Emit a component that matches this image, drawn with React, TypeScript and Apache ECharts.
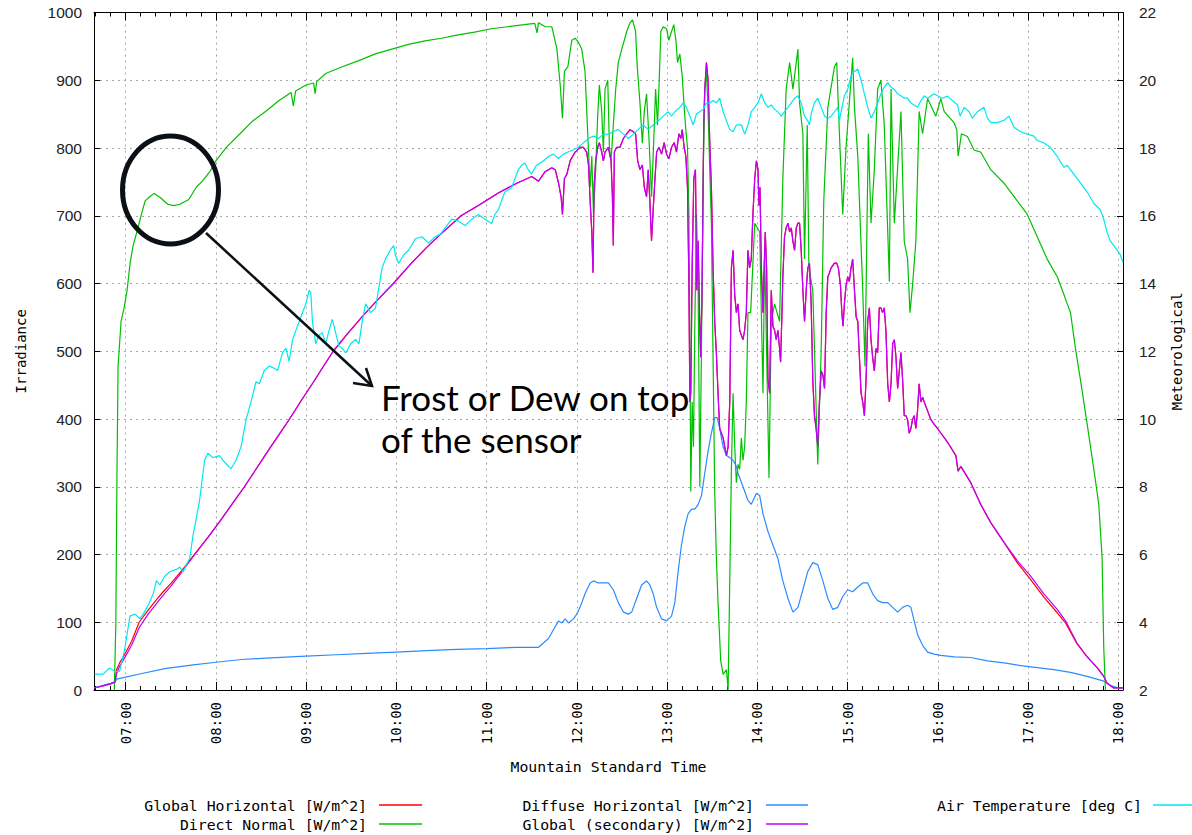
import React, { useEffect, useRef } from "react";
import * as echarts from "echarts";

// time in minutes after midnight (Mountain Standard Time)
const X_MIN = 399;
const X_MAX = 1083;
const HOUR_TICKS = [420, 480, 540, 600, 660, 720, 780, 840, 900, 960, 1020, 1080];
const MINOR_TICKS = [400, 410, 420, 430, 440, 450, 460, 470, 480, 490, 500, 510, 520, 530, 540, 550, 560, 570, 580, 590, 600, 610, 620, 630, 640, 650, 660, 670, 680, 690, 700, 710, 720, 730, 740, 750, 760, 770, 780, 790, 800, 810, 820, 830, 840, 850, 860, 870, 880, 890, 900, 910, 920, 930, 940, 950, 960, 970, 980, 990, 1000, 1010, 1020, 1030, 1040, 1050, 1060, 1070, 1080];

const SERIES_NAMES = [
  "Global Horizontal [W/m^2]",
  "Direct Normal [W/m^2]",
  "Diffuse Horizontal [W/m^2]",
  "Global (secondary) [W/m^2]",
  "Air Temperature [deg C]",
];
const SERIES_COLORS = ["#ff0000", "#00c000", "#2a8cff", "#c000ff", "#00e8ee"];

// Global horizontal, morning (red reads slightly higher than the secondary sensor)
const ghMorning = [
  [399, 3], [405, 6], [410, 9], [413, 12], [414, 30], [416, 40], [418, 47], [420, 55], [424, 72], [429, 100],
  [435, 118], [440, 132], [445, 145], [450, 157], [458, 178], [466, 201], [475, 226], [483, 250], [491, 275],
  [499, 300], [507, 327], [515, 354], [522, 377], [529, 400], [537, 428], [545, 455], [551, 476], [558, 500],
  [568, 527], [578, 553], [588, 577], [598, 600], [610, 630], [620, 653], [630, 674], [643, 700], [655, 716],
  [668, 734], [680, 748], [690, 758],
];
const gsMorning = [
  [399, 3], [405, 6], [410, 9], [413, 12], [414, 24], [416, 35], [418, 42], [420, 50], [424, 66], [429, 92],
  [435, 112], [440, 126], [445, 140], [450, 153], [458, 176], [466, 200], [475, 226], [483, 250], [491, 275],
  [499, 300], [507, 327], [515, 354], [522, 377], [529, 400], [537, 428], [545, 455], [551, 476], [558, 500],
  [568, 527], [578, 553], [588, 577], [598, 600], [610, 630], [620, 653], [630, 674], [643, 700], [655, 716],
  [668, 734], [680, 748], [690, 758],
];
// both global sensors overlap through the cloudy middle of the day
const globalMidday = [
  [694.5, 751], [698.9, 765], [703.3, 771], [705.6, 768], [707.8, 748], [709.5, 728], [710.4, 702], [711.7, 755],
  [713.3, 761], [715.5, 781], [718.8, 794], [722.1, 801], [724.3, 801], [726.5, 794], [727.7, 775], [728.8, 722],
  [729.9, 676], [730.7, 616], [731.4, 742], [732.5, 781], [733.8, 801], [734.9, 808], [736.5, 794], [737.6, 781],
  [738.7, 794], [740.9, 801], [742.7, 781], [743.6, 728], [744.2, 656], [744.9, 794], [746.4, 801], [748.6, 801],
  [750.9, 814], [753.1, 821], [755.3, 827], [757.5, 824], [759, 821], [760.4, 781], [761.9, 768], [763.5, 775],
  [764.8, 742], [766.3, 728], [767.4, 768], [768.5, 722], [769.6, 663], [770.7, 709], [771.9, 755], [773, 794],
  [774.5, 801], [776.3, 791], [778, 808], [779.6, 791], [781.1, 784], [782.9, 801], [784.7, 808], [786.2, 794],
  [787.8, 821], [789.1, 814], [790, 827], [791.3, 801], [792.4, 788], [793.5, 742], [794.4, 610], [795.1, 425],
  [795.7, 438], [796.6, 623], [797.7, 755], [798.8, 768], [799.7, 590], [800.6, 663], [801.7, 537], [802.3, 491],
  [803.2, 590], [804.3, 834], [805, 887], [806.1, 926], [807.2, 900], [808.3, 808], [809.4, 742], [810.5, 623],
  [811.6, 544], [812.7, 498], [813.8, 438], [814.9, 386], [817.2, 372], [818.3, 359], [819.4, 346], [820.5, 359],
  [821.6, 425], [822.7, 623], [823.8, 649], [824.9, 583], [826, 557], [827.1, 570], [828.2, 531], [829.3, 524],
  [830.4, 517], [831.5, 531], [832.6, 557], [833.7, 649], [834.8, 623], [835.9, 636], [837, 702], [838.2, 755],
  [839.3, 781], [840.4, 768], [841, 715], [841.7, 742], [842.6, 623], [843.7, 557], [844.3, 610], [845.2, 676],
  [846.1, 623], [847, 458], [848.1, 438], [849.2, 590], [850.3, 537], [851.4, 531], [852.5, 517], [853.6, 531],
  [854.7, 504], [855.4, 484], [856.3, 557], [856.9, 610], [858, 669], [859.1, 682], [860.3, 689], [861.4, 676],
  [862.5, 682], [863.6, 662], [864.7, 649], [865.8, 682], [866.9, 689], [868, 689], [869.1, 649], [870.2, 590],
  [871.3, 544], [872.4, 590], [873.5, 623], [874.6, 630], [875.7, 570], [876.8, 458], [877.9, 405], [879, 386],
  [880.1, 359], [881.2, 425], [882.4, 471], [883.5, 465], [884.6, 445], [885.7, 557], [886.8, 610], [887.9, 616],
  [889, 623], [891.2, 630], [892.7, 630], [893.8, 623], [895.2, 597], [896.1, 557], [896.9, 537], [897.8, 570],
  [898.9, 597], [900, 610], [901.1, 603], [902.2, 623], [903.3, 636], [904.5, 590], [905.6, 551], [906.7, 544],
  [907.8, 491], [908.9, 438], [910, 425], [911.1, 405], [912.2, 458], [913.3, 544], [914.4, 564], [915.5, 517],
  [916.6, 491], [917.7, 471], [918.8, 504], [919.9, 498], [921, 564], [922.1, 564], [923.2, 557], [924.3, 564],
  [925.4, 531], [926.6, 452], [927.7, 425], [928.8, 452], [929.9, 511], [931, 517], [932.1, 491], [933.2, 445],
  [934.3, 471], [935.4, 498], [936.5, 458], [937.6, 405], [938.7, 405], [939.8, 399], [940.9, 379], [942, 386],
  [943.1, 399], [944.2, 405], [945.3, 386], [946.4, 412], [947.5, 452], [948.7, 425], [949.8, 432], [950.9, 425],
  [953.1, 412], [955.3, 399], [957.5, 392], [959.7, 386], [966.3, 366], [971.9, 346], [973.4, 323], [975.2, 330],
  [981.8, 306], [988.4, 274], [995.1, 247], [1003.9, 218],
];
const ghEvening = [
  [1012.7, 188], [1021.6, 163], [1030.4, 137], [1039.3, 114], [1044.8, 99], [1052.5, 68], [1059.2, 49],
  [1065.8, 33], [1070.2, 20], [1072.4, 10], [1076.8, 3], [1083, 3],
];
const gsEvening = [
  [1012.7, 191], [1021.6, 168], [1030.4, 142], [1039.3, 119], [1044.8, 102], [1052.5, 69], [1059.2, 49],
  [1065.8, 33], [1070.2, 20], [1072.4, 10], [1076.8, 3], [1083, 3],
];
const globalHorizontal = [...ghMorning, ...globalMidday, ...ghEvening];
const globalSecondary = [...gsMorning, ...globalMidday, ...gsEvening];

const directNormal = [
  [412.5, 0], [413.5, 96], [414.3, 326], [415, 478], [417, 544], [419, 564], [421, 590], [423, 630], [425, 656],
  [427.5, 676], [430.5, 702], [433, 722], [436, 728], [439, 733], [443, 727], [448, 717], [452, 715], [456, 717],
  [462, 724], [467, 742], [471, 751], [476, 765], [480, 781], [487, 801], [496, 821], [504.5, 840], [513, 854],
  [522, 870], [530, 882], [531.5, 862], [533, 884], [540, 893], [545, 896], [546, 880], [547, 898], [553, 910],
  [564, 920], [575, 929], [586, 939], [597, 946], [608, 953], [619, 958], [630, 962], [641, 967], [652, 971],
  [663, 976], [674, 979], [685, 982], [692, 984], [693.5, 970], [694.5, 985], [698.9, 979], [703.3, 979],
  [704.4, 969], [706.7, 946], [708.9, 893], [710.4, 844], [711.7, 913], [714, 920], [716.6, 959], [718.8, 962],
  [721, 956], [723.2, 946], [725.4, 913], [727.2, 821], [728.8, 742], [729.9, 788], [731, 702], [732.5, 768],
  [733.8, 847], [734.9, 893], [736.5, 854], [737.6, 794], [738.7, 887], [740.5, 900], [741.6, 801], [742.7, 781],
  [744.2, 834], [745.8, 887], [747.5, 926], [749.8, 946], [751.5, 959], [753.1, 972], [755.3, 985], [757, 989],
  [759, 972], [760.1, 920], [761.9, 867], [763.5, 807], [764.8, 854], [766.3, 880], [767.9, 814], [769.6, 728],
  [770.7, 788], [772.3, 887], [773.6, 834], [774.5, 887], [775.8, 972], [777.4, 979], [779.6, 976], [781.1, 959],
  [782.9, 972], [784.4, 982], [785.8, 959], [786.9, 926], [788.4, 939], [790, 906], [791.3, 860], [792.4, 827],
  [793.5, 801], [794.4, 709], [795.1, 517], [795.7, 293], [796.6, 425], [797.5, 359], [798.4, 544], [799.5, 702],
  [800.6, 590], [801.7, 300], [802.8, 504], [803.9, 755], [805, 887], [806.1, 913], [807.2, 854], [808.3, 768],
  [809.4, 689], [810.5, 491], [811.6, 293], [812.7, 195], [813.8, 129], [815.6, 43], [817.2, 23], [819.4, 30],
  [820.5, 0], [821.6, 162], [822.7, 326], [823.8, 438], [824.9, 359], [826, 306], [827.1, 333], [828.2, 326],
  [829.3, 372], [830.4, 339], [831.5, 359], [832.6, 425], [833.7, 557], [835.5, 557], [838.2, 689], [841.5, 676],
  [843.7, 438], [844.8, 649], [847.7, 313], [849.2, 544], [851.4, 570], [854.7, 544], [856.9, 755], [859.1, 887],
  [861.4, 926], [863.6, 887], [866.9, 946], [868, 867], [870.2, 821], [871.3, 636], [873.1, 834], [874.2, 623],
  [876.8, 590], [880.1, 333], [882.4, 504], [884.1, 722], [886.8, 860], [891.2, 920], [892.7, 926], [894.5, 821],
  [896.7, 702], [898.9, 801], [903.3, 933], [904.5, 860], [906.7, 788], [910, 590], [911.5, 478], [913.7, 821],
  [915.5, 689], [917.7, 768], [919.9, 887], [922.1, 900], [924.3, 834], [927.7, 603], [928.8, 887], [931, 689],
  [935.4, 854], [937.6, 662], [939.8, 636], [941.4, 557], [943.1, 597], [945.3, 662], [947.5, 854], [949.8, 821],
  [953.1, 873], [958.6, 847], [961.9, 873], [964.1, 854], [970.8, 837], [972.5, 827], [973.4, 788], [974.3, 801],
  [975.6, 821], [979.6, 817], [984, 797], [988.4, 794], [995.1, 768], [1003.9, 748], [1012.7, 722], [1019.4, 702],
  [1026, 669], [1032.6, 636], [1039.3, 610], [1044.8, 577], [1048.1, 557], [1051.4, 504], [1054.7, 458],
  [1059.2, 392], [1063.6, 326], [1066.9, 274], [1069.1, 195], [1070.2, 63], [1071.3, 0],
];

const diffuseHorizontal = [
  [399, 3], [405, 7], [410, 10], [413, 12], [414, 16], [420, 19], [430, 24], [447, 32], [465, 37], [480, 41],
  [497, 45], [513, 47], [540, 50], [560, 52], [580, 54], [600, 56], [620, 58], [640, 60], [660, 61], [680, 63],
  [694.5, 63], [701.1, 76], [704.4, 89], [707.8, 102], [710, 99], [712.2, 105], [714.4, 99], [717.7, 105],
  [719.9, 112], [722.1, 122], [725.4, 142], [728.8, 158], [731, 161], [734.3, 158], [737.6, 158], [740.9, 158],
  [744.2, 148], [747.5, 129], [750.9, 115], [754.2, 112], [756.4, 115], [759.7, 135], [763, 155], [766.3, 161],
  [768.5, 155], [770.7, 142], [773, 122], [776.3, 105], [779.6, 102], [782.9, 109], [785.1, 129], [787.3, 175],
  [789.5, 214], [791.7, 241], [793.9, 260], [796.2, 267], [798.4, 267], [800.6, 274], [802.8, 287], [805, 320],
  [807.2, 353], [809.4, 379], [811.6, 402], [813.2, 402], [814.9, 386], [817.2, 359], [819.4, 346], [821.6, 343],
  [823.8, 339], [826, 330], [827.1, 320], [830.4, 300], [833.7, 280], [835.9, 274], [839.3, 290], [841.5, 287],
  [843.7, 260], [847, 234], [850.3, 214], [853.6, 194], [856.9, 161], [860.3, 135], [863.6, 115], [866.9, 122],
  [870.2, 148], [873.5, 175], [876.8, 188], [880.1, 185], [883.5, 161], [886.8, 135], [890.1, 119], [893.4, 122],
  [896.7, 138], [900, 148], [903.3, 145], [906.7, 152], [910, 158], [913.3, 158], [916.6, 142], [919.9, 132],
  [923.2, 129], [926.6, 129], [929.9, 122], [933.2, 115], [936.5, 122], [939.8, 125], [942, 122], [944.2, 102],
  [946.4, 82], [949.8, 66], [953.1, 56], [957.5, 53], [961.9, 51], [970.8, 49], [981.8, 48], [992.9, 43],
  [1003.9, 40], [1015, 36], [1026, 33], [1037, 30], [1048.1, 26], [1059.2, 20], [1070.2, 13], [1074.6, 7],
  [1080.1, 3], [1083, 3],
];

const airTemperature = [
  [399.4, 2.47], [405, 2.47], [409.4, 2.65], [412.7, 2.55], [416, 2.55], [419.3, 3.18], [422.9, 4.18],
  [426.2, 4.24], [429.5, 4.11], [431.7, 4.24], [435, 4.5], [438.3, 4.83], [440.5, 5.23], [442.7, 5.1],
  [446, 5.36], [449.3, 5.49], [453.8, 5.56], [456, 5.63], [458.2, 5.49], [462.6, 5.89], [464.8, 6.55],
  [469.2, 7.6], [472.5, 8.79], [474.7, 8.99], [478, 8.86], [482.4, 8.92], [485.7, 8.73], [490.1, 8.53],
  [493.5, 8.79], [496.8, 9.19], [500.1, 9.98], [503.4, 10.51], [506.7, 11.1], [508.9, 11.04], [512.2, 11.43],
  [515.5, 11.56], [518.8, 11.5], [521, 11.43], [524.3, 11.95], [526.5, 12.09], [528.7, 11.7], [531, 12.35],
  [535.4, 12.88], [539.8, 13.4], [542, 13.8], [543.1, 13.73], [544.2, 12.88], [546.4, 12.22], [548.6, 12.48],
  [550.8, 12.55], [553, 12.22], [555.2, 12.61], [557.4, 12.94], [559.6, 12.55], [561.8, 12.15], [564, 12.09],
  [566.3, 11.95], [569.6, 12.22], [572.9, 12.35], [575.1, 12.22], [577.3, 12.88], [579.5, 13.4], [582.8, 13.14],
  [586.1, 13.27], [590.5, 14.46], [592.7, 14.72], [596, 14.99], [598.2, 15.12], [599.3, 14.85], [601.5, 14.59],
  [604.9, 14.85], [608.2, 14.99], [612.6, 15.32], [617, 15.38], [621.4, 15.19], [625.8, 15.38], [629.1, 15.45],
  [632.4, 15.64], [636.8, 15.9], [641.3, 15.84], [645.7, 15.71], [650.1, 15.9], [654.5, 16.04], [658.9, 15.9],
  [663.3, 15.77], [665.5, 16.04], [667.7, 16.17], [669.9, 16.44], [672.1, 16.7], [676.6, 16.83], [681, 17.36],
  [683.2, 17.49], [685.4, 17.56], [687.6, 17.36], [689.8, 17.23], [693.1, 17.49], [697.8, 17.62], [701.1, 17.75],
  [704.4, 17.82], [707.8, 17.69], [711.1, 17.82], [714.4, 17.89], [717.7, 17.95], [721, 18.02], [724.3, 18.15],
  [727.7, 18.28], [731, 18.35], [734.3, 18.28], [737.6, 18.41], [740.9, 18.41], [744.2, 18.48], [747.5, 18.55],
  [750.9, 18.41], [754.2, 18.28], [757.5, 18.41], [760.8, 18.55], [764.1, 18.68], [767.4, 18.55], [770.7, 18.68],
  [774.1, 18.8], [777.4, 18.94], [780.7, 19.07], [782.9, 18.94], [785.1, 19.07], [788.4, 19.2], [790.6, 19.33],
  [792.8, 19.2], [795.1, 18.94], [797.3, 18.68], [799.5, 19.01], [801.7, 19.07], [803.9, 19.14], [806.1, 19.33],
  [808.3, 19.33], [810.5, 19.4], [812.7, 19.33], [814.9, 19.47], [817.2, 19.07], [819.4, 18.8], [821.6, 18.55],
  [823.8, 18.48], [826, 18.68], [829.3, 18.68], [831.5, 18.41], [833.7, 18.68], [835.9, 19.07], [838.2, 19.2],
  [840.4, 19.33], [842.6, 19.6], [844.8, 19.33], [847, 19.2], [849.2, 19.27], [851.4, 19.14], [853.6, 19.07],
  [855.8, 18.94], [858, 19.07], [860.3, 19.2], [862.5, 19.33], [864.7, 19.47], [866.9, 19.54], [869.1, 19.33],
  [871.3, 18.94], [873.5, 18.8], [874.6, 18.68], [875.7, 19.01], [877.9, 19.33], [880.1, 19.47], [882.4, 19.2],
  [884.6, 18.94], [886.8, 18.88], [889, 18.94], [891.2, 19.07], [893.4, 19.2], [894.5, 18.8], [895.6, 19.07],
  [897.8, 19.54], [900, 19.73], [902.2, 20.13], [904.5, 20.26], [906.7, 20.33], [908.9, 20.0], [911.1, 19.6],
  [913.3, 19.2], [915.5, 18.88], [917.7, 19.07], [919.9, 19.33], [922.1, 19.6], [924.3, 19.8], [926.6, 19.93],
  [928.8, 19.8], [931, 19.73], [933.2, 19.6], [935.4, 19.54], [937.6, 19.47], [939.8, 19.47], [942, 19.33],
  [944.2, 19.27], [946.4, 19.2], [948.7, 19.4], [950.9, 19.54], [953.1, 19.47], [955.3, 19.54], [957.5, 19.6],
  [959.7, 19.54], [963, 19.47], [966.3, 19.53], [969.6, 19.4], [973, 19.27], [974.7, 18.94], [977.4, 19.2],
  [980.7, 19.07], [982.9, 18.88], [986.2, 19.07], [990.6, 19.2], [992.9, 18.88], [995.1, 18.75], [999.5, 18.75],
  [1003.9, 18.82], [1007.2, 18.94], [1010.5, 18.61], [1015, 18.48], [1019.4, 18.41], [1023.8, 18.35],
  [1026, 18.22], [1030.4, 18.15], [1034.8, 18.02], [1039.3, 17.75], [1043.7, 17.43], [1045.9, 17.49],
  [1050.3, 17.23], [1054.7, 16.97], [1059.2, 16.7], [1063.6, 16.37], [1068, 16.17], [1070.2, 15.9],
  [1072.4, 15.51], [1074.6, 15.25], [1078, 15.05], [1081.2, 14.85], [1083, 14.62],
];

const MONO = "'DejaVu Sans Mono', 'Liberation Mono', monospace";
const SANS = "'Liberation Sans', Arial, sans-serif";
const NOTE_FONT = "35px Lato, 'Open Sans', sans-serif";

const fmtTime = (v: number) => {
  const h = Math.floor(v / 60);
  const m = Math.round(v - h * 60);
  return `${String(h).padStart(2, "0")}:${String(m).padStart(2, "0")}`;
};

export default function App() {
  const ref = useRef<HTMLDivElement>(null);

  useEffect(() => {
    if (!ref.current) return;
    const chart = echarts.init(ref.current, null, { renderer: "svg" });

    const gridLine = { show: true, lineStyle: { color: "#a8a8a8", width: 1, type: [2, 4] as any } };
    const black = { color: "#000", width: 1 };

    const xCommon = { type: "value" as const, min: X_MIN, max: X_MAX, gridIndex: 0 };

    const legendCols = [
      { textRight: 367, lineX1: 379, lineX2: 422 },
      { textRight: 754, lineX1: 766, lineX2: 808 },
      { textRight: 1142, lineX1: 1153, lineX2: 1195 },
    ];
    const legendSlots = [
      { col: 0, y: 805 },
      { col: 0, y: 824 },
      { col: 1, y: 805 },
      { col: 1, y: 824 },
      { col: 2, y: 805 },
    ];
    const legendGraphics: any[] = [];
    SERIES_NAMES.forEach((name, i) => {
      const slot = legendSlots[i];
      const c = legendCols[slot.col];
      legendGraphics.push({
        type: "text",
        x: c.textRight,
        y: slot.y,
        style: { text: name, font: `14.8px ${MONO}`, fill: "#000", align: "right", verticalAlign: "middle" },
      });
      legendGraphics.push({
        type: "line",
        shape: { x1: c.lineX1, y1: slot.y, x2: c.lineX2, y2: slot.y },
        style: { stroke: SERIES_COLORS[i], lineWidth: 1.5 },
      });
    });

    const seriesData = [globalHorizontal, directNormal, diffuseHorizontal, globalSecondary, airTemperature];

    chart.setOption({
      animation: false,
      backgroundColor: "#fff",
      grid: { left: 94, right: 65, top: 12.5, bottom: 145, containLabel: false },
      xAxis: [
        {
          ...xCommon,
          position: "bottom",
          name: "Mountain Standard Time",
          nameLocation: "middle",
          nameGap: 69,
          nameTextStyle: { fontFamily: MONO, fontSize: 14.8, color: "#000" },
          axisLine: { show: true, onZero: false, lineStyle: black },
          axisTick: { show: true, inside: true, length: 8, customValues: HOUR_TICKS, lineStyle: black },
          axisLabel: {
            show: true,
            customValues: HOUR_TICKS,
            rotate: 90,
            margin: 12,
            fontFamily: MONO,
            fontSize: 14,
            color: "#000",
            formatter: (v: number) => fmtTime(v),
          },
          splitLine: gridLine,
        },
        {
          ...xCommon,
          position: "bottom",
          axisLine: { show: false },
          axisTick: { show: true, inside: true, length: 4, customValues: MINOR_TICKS, lineStyle: black },
          axisLabel: { show: false },
          splitLine: { show: false },
        },
        {
          ...xCommon,
          position: "top",
          axisLine: { show: true, onZero: false, lineStyle: black },
          axisTick: { show: true, inside: true, length: 8, customValues: HOUR_TICKS, lineStyle: black },
          axisLabel: { show: false },
          splitLine: { show: false },
        },
        {
          ...xCommon,
          position: "top",
          axisLine: { show: false },
          axisTick: { show: true, inside: true, length: 4, customValues: MINOR_TICKS, lineStyle: black },
          axisLabel: { show: false },
          splitLine: { show: false },
        },
      ],
      yAxis: [
        {
          type: "value",
          min: 0,
          max: 1000,
          interval: 100,
          position: "left",
          name: "Irradiance",
          nameLocation: "middle",
          nameGap: 66,
          nameRotate: 90,
          nameTextStyle: { fontFamily: MONO, fontSize: 14, color: "#000" },
          axisLine: { show: true, lineStyle: black },
          axisTick: { show: true, inside: true, length: 6, lineStyle: black },
          axisLabel: {
            margin: 12,
            fontFamily: SANS,
            fontSize: 15.5,
            color: "#222",
            formatter: (v: number) => String(v),
          },
          splitLine: gridLine,
        },
        {
          type: "value",
          min: 2,
          max: 22,
          interval: 2,
          position: "right",
          name: "Meteorological",
          nameLocation: "middle",
          nameGap: 47,
          nameRotate: 90,
          nameTextStyle: { fontFamily: MONO, fontSize: 14, color: "#000" },
          axisLine: { show: true, lineStyle: black },
          axisTick: { show: true, inside: true, length: 6, lineStyle: black },
          axisLabel: {
            margin: 16,
            fontFamily: SANS,
            fontSize: 15.5,
            color: "#222",
            formatter: (v: number) => String(v),
          },
          splitLine: { show: false },
        },
      ],
      series: SERIES_NAMES.map((name, i) => ({
        name,
        type: "line",
        xAxisIndex: 0,
        yAxisIndex: i === 4 ? 1 : 0,
        data: seriesData[i],
        showSymbol: false,
        symbol: "none",
        silent: true,
        lineStyle: { color: SERIES_COLORS[i], width: 1.2 },
        itemStyle: { color: SERIES_COLORS[i] },
        z: 2 + i,
      })),
      graphic: [
        ...legendGraphics,
        {
          type: "ellipse",
          shape: { cx: 170.5, cy: 190, rx: 48, ry: 54 },
          style: { fill: "none", stroke: "#0b1016", lineWidth: 5 },
          z: 100,
        },
        {
          type: "line",
          shape: { x1: 206, y1: 233, x2: 372, y2: 386 },
          style: { stroke: "#0b1016", lineWidth: 2.5 },
          z: 100,
        },
        {
          type: "polyline",
          shape: { points: [[353, 383], [372, 386], [366, 368]] },
          style: { stroke: "#0b1016", lineWidth: 2.5, fill: "none" },
          z: 100,
        },
        {
          type: "text",
          x: 381,
          y: 397,
          style: { text: "Frost or Dew on top", font: NOTE_FONT, fill: "#000", verticalAlign: "middle" },
          z: 100,
        },
        {
          type: "text",
          x: 381,
          y: 439,
          style: { text: "of the sensor", font: NOTE_FONT, fill: "#000", verticalAlign: "middle" },
          z: 100,
        },
      ],
    });

    return () => chart.dispose();
  }, []);

  return (
    <div
      ref={ref}
      style={{ position: "absolute", left: 0, top: 0, width: 1192, height: 835, background: "#fff" }}
    />
  );
}
